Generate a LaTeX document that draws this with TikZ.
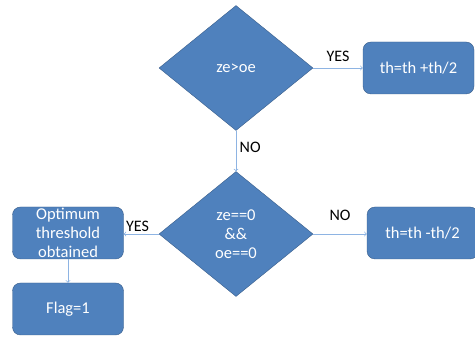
\documentclass[tikz,border=0pt]{standalone}
\usepackage{fontspec}
\setmainfont{Carlito}
\usepackage{tikz}
\usetikzlibrary{shapes}
\usetikzlibrary{arrows}
\usetikzlibrary{positioning}

\definecolor{boxblue}{HTML}{4F81BD}
\definecolor{boxedge}{HTML}{385D8A}
\definecolor{linkblue}{HTML}{8EB4E3}

\begin{document}
\begin{tikzpicture}[x=1pt,y=-1pt,
    decision/.style={diamond,draw=boxedge,fill=boxblue,text=white,
      minimum width=154pt,minimum height=125pt,inner sep=0pt,
      font=\fontsize{16.5}{19}\selectfont,align=center},
    action/.style={rectangle,rounded corners=8pt,draw=boxedge,fill=boxblue,
      text=white,minimum width=111pt,minimum height=52pt,inner sep=0pt,
      font=\fontsize{16.5}{19}\selectfont,align=center},
    link/.style={->,draw=linkblue,line width=0.8pt},
    tag/.style={font=\fontsize{16}{19}\selectfont}]
  \useasboundingbox (0,0) rectangle (475,339);
  % first test
  \node[decision] (cmpzo) at (236,68) {ze>oe};
  \node[action] (raise) at (418.5,68) {th=th +th/2};
  % second test
  \node[decision] (bothzero) at (236,234) {ze==0\\\&\&\\oe==0};
  \node[action] (found) at (68,233) {Optimum\\threshold\\obtained};
  \node[action] (flag) at (68,309) {Flag=1};
  \node[action] (lower) at (422.5,233) {th=th -th/2};

  \draw[link] (cmpzo) -- node[tag,above,yshift=3pt] {YES} (raise);
  \draw[link] (cmpzo) -- node[tag,right,pos=0.4] {NO} (bothzero);
  \draw[link] (bothzero.west) -- node[tag,pos=1,anchor=south west,inner sep=2pt] {YES} (found.east |- bothzero.west);
  \draw[link] (bothzero.east) -- node[tag,above,yshift=10pt] {NO} (lower.west |- bothzero.east);
  \draw[link] (found) -- (flag);
\end{tikzpicture}
\end{document}
